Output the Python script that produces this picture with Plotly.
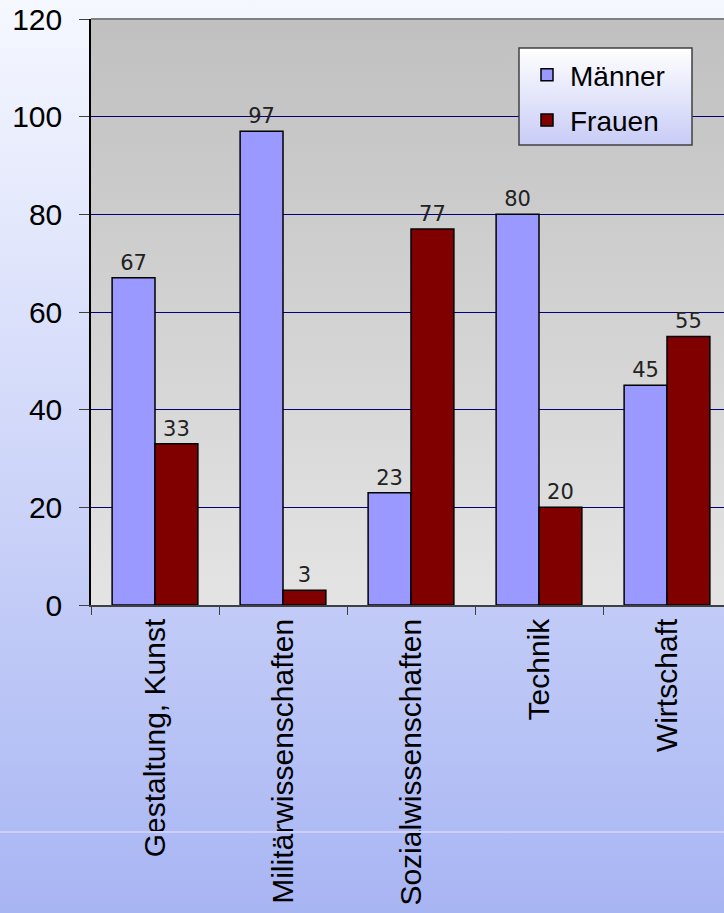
import base64
import plotly.graph_objects as go

categories = ["Gestaltung, Kunst", "Militärwissenschaften", "Sozialwissenschaften", "Technik", "Wirtschaft"]
maenner = [67, 97, 23, 80, 45]
frauen = [33, 3, 77, 20, 55]
y_ticks = [0, 20, 40, 60, 80, 100, 120]

# plot area in pixels: left 91, top 19, width 633, height 586
PX_L, PX_T, PX_W, PX_H = 91, 19, 633, 586


def px_x(px):
    return (px - PX_L) / PX_W


def px_y(py):
    return (PX_T + PX_H - py) / PX_H


def gradient_uri(top, bottom):
    svg = (
        '<svg xmlns="http://www.w3.org/2000/svg" width="100" height="100" preserveAspectRatio="none">'
        '<defs><linearGradient id="g" x1="0" y1="0" x2="0" y2="1">'
        f'<stop offset="0" stop-color="{top}"/><stop offset="1" stop-color="{bottom}"/>'
        '</linearGradient></defs><rect width="100" height="100" fill="url(#g)"/></svg>'
    )
    return "data:image/svg+xml;base64," + base64.b64encode(svg.encode()).decode()


fig = go.Figure()
fig.add_trace(go.Bar(
    x=categories, y=maenner, name="Männer", legendgroup="m",
    marker=dict(color="#9999FF", line=dict(color="#000000", width=1.5)),
    text=maenner, textposition="outside", cliponaxis=False,
    textfont=dict(family="DejaVu Sans", size=21, color="#222222"),
))
fig.add_trace(go.Bar(
    x=categories, y=frauen, name="Frauen", legendgroup="f",
    marker=dict(color="#800000", line=dict(color="#000000", width=1.5)),
    text=frauen, textposition="outside", cliponaxis=False,
    textfont=dict(family="DejaVu Sans", size=21, color="#222222"),
))

fig.update_layout(
    width=724, height=913,
    margin=dict(l=PX_L, r=0, t=PX_T, b=913 - PX_T - PX_H),
    paper_bgcolor="rgba(0,0,0,0)",
    plot_bgcolor="rgba(0,0,0,0)",
    barmode="group", bargap=0.33, bargroupgap=0,
    font=dict(family="Liberation Sans, Arial", color="#000000"),
    showlegend=True,
    legend=dict(
        x=px_x(524), y=px_y(50), xanchor="left", yanchor="top",
        bgcolor="rgba(0,0,0,0)", borderwidth=0,
        font=dict(size=28, family="Liberation Sans, Arial"),
        tracegroupgap=6, itemwidth=36,
    ),
    xaxis=dict(
        range=[-0.5, -0.5 + PX_W / 128], tickangle=-90, tickson="boundaries",
        ticks="outside", ticklen=8, tickcolor="#404040",
        showline=True, linecolor="#404040", linewidth=1.5,
        tickfont=dict(size=30), showgrid=False,
    ),
    yaxis=dict(
        range=[0, 120], tickvals=y_ticks, ticks="outside", ticklen=10,
        tickcolor="#404040", showline=True, linecolor="#000000", linewidth=1.5,
        tickfont=dict(size=30), showgrid=True, gridcolor="#000080", gridwidth=1,
        zeroline=False, ticklabelstandoff=11,
    ),
    images=[
        dict(source=gradient_uri("#F6F8FF", "#A8B5F3"), xref="paper", yref="paper",
             x=px_x(0), y=px_y(0), sizex=724 / PX_W, sizey=913 / PX_H,
             xanchor="left", yanchor="top", sizing="stretch", layer="below"),
        dict(source=gradient_uri("#C0C0C0", "#E4E4E4"), xref="paper", yref="paper",
             x=0, y=1, sizex=1, sizey=1,
             xanchor="left", yanchor="top", sizing="stretch", layer="below"),
        # legend box background
        dict(source=gradient_uri("#FFFFFF", "#C8CCF6"), xref="paper", yref="paper",
             x=px_x(519), y=px_y(48), sizex=173 / PX_W, sizey=97 / PX_H,
             xanchor="left", yanchor="top", sizing="stretch", layer="above"),
    ],
    shapes=[
        dict(type="line", xref="paper", yref="paper", x0=0, x1=1, y0=1, y1=1,
             line=dict(color="#808080", width=2)),
        dict(type="line", xref="paper", yref="paper", x0=px_x(0), x1=1,
             y0=px_y(832), y1=px_y(832),
             line=dict(color="#CCD0FA", width=2)),
        dict(type="rect", xref="paper", yref="paper", layer="above",
             x0=px_x(519), x1=px_x(692), y0=px_y(145), y1=px_y(48),
             line=dict(color="#404040", width=1.5)),
    ],
)

fig.write_html("out.html", config={"displayModeBar": False},
               post_script="document.body.style.margin='0';")
